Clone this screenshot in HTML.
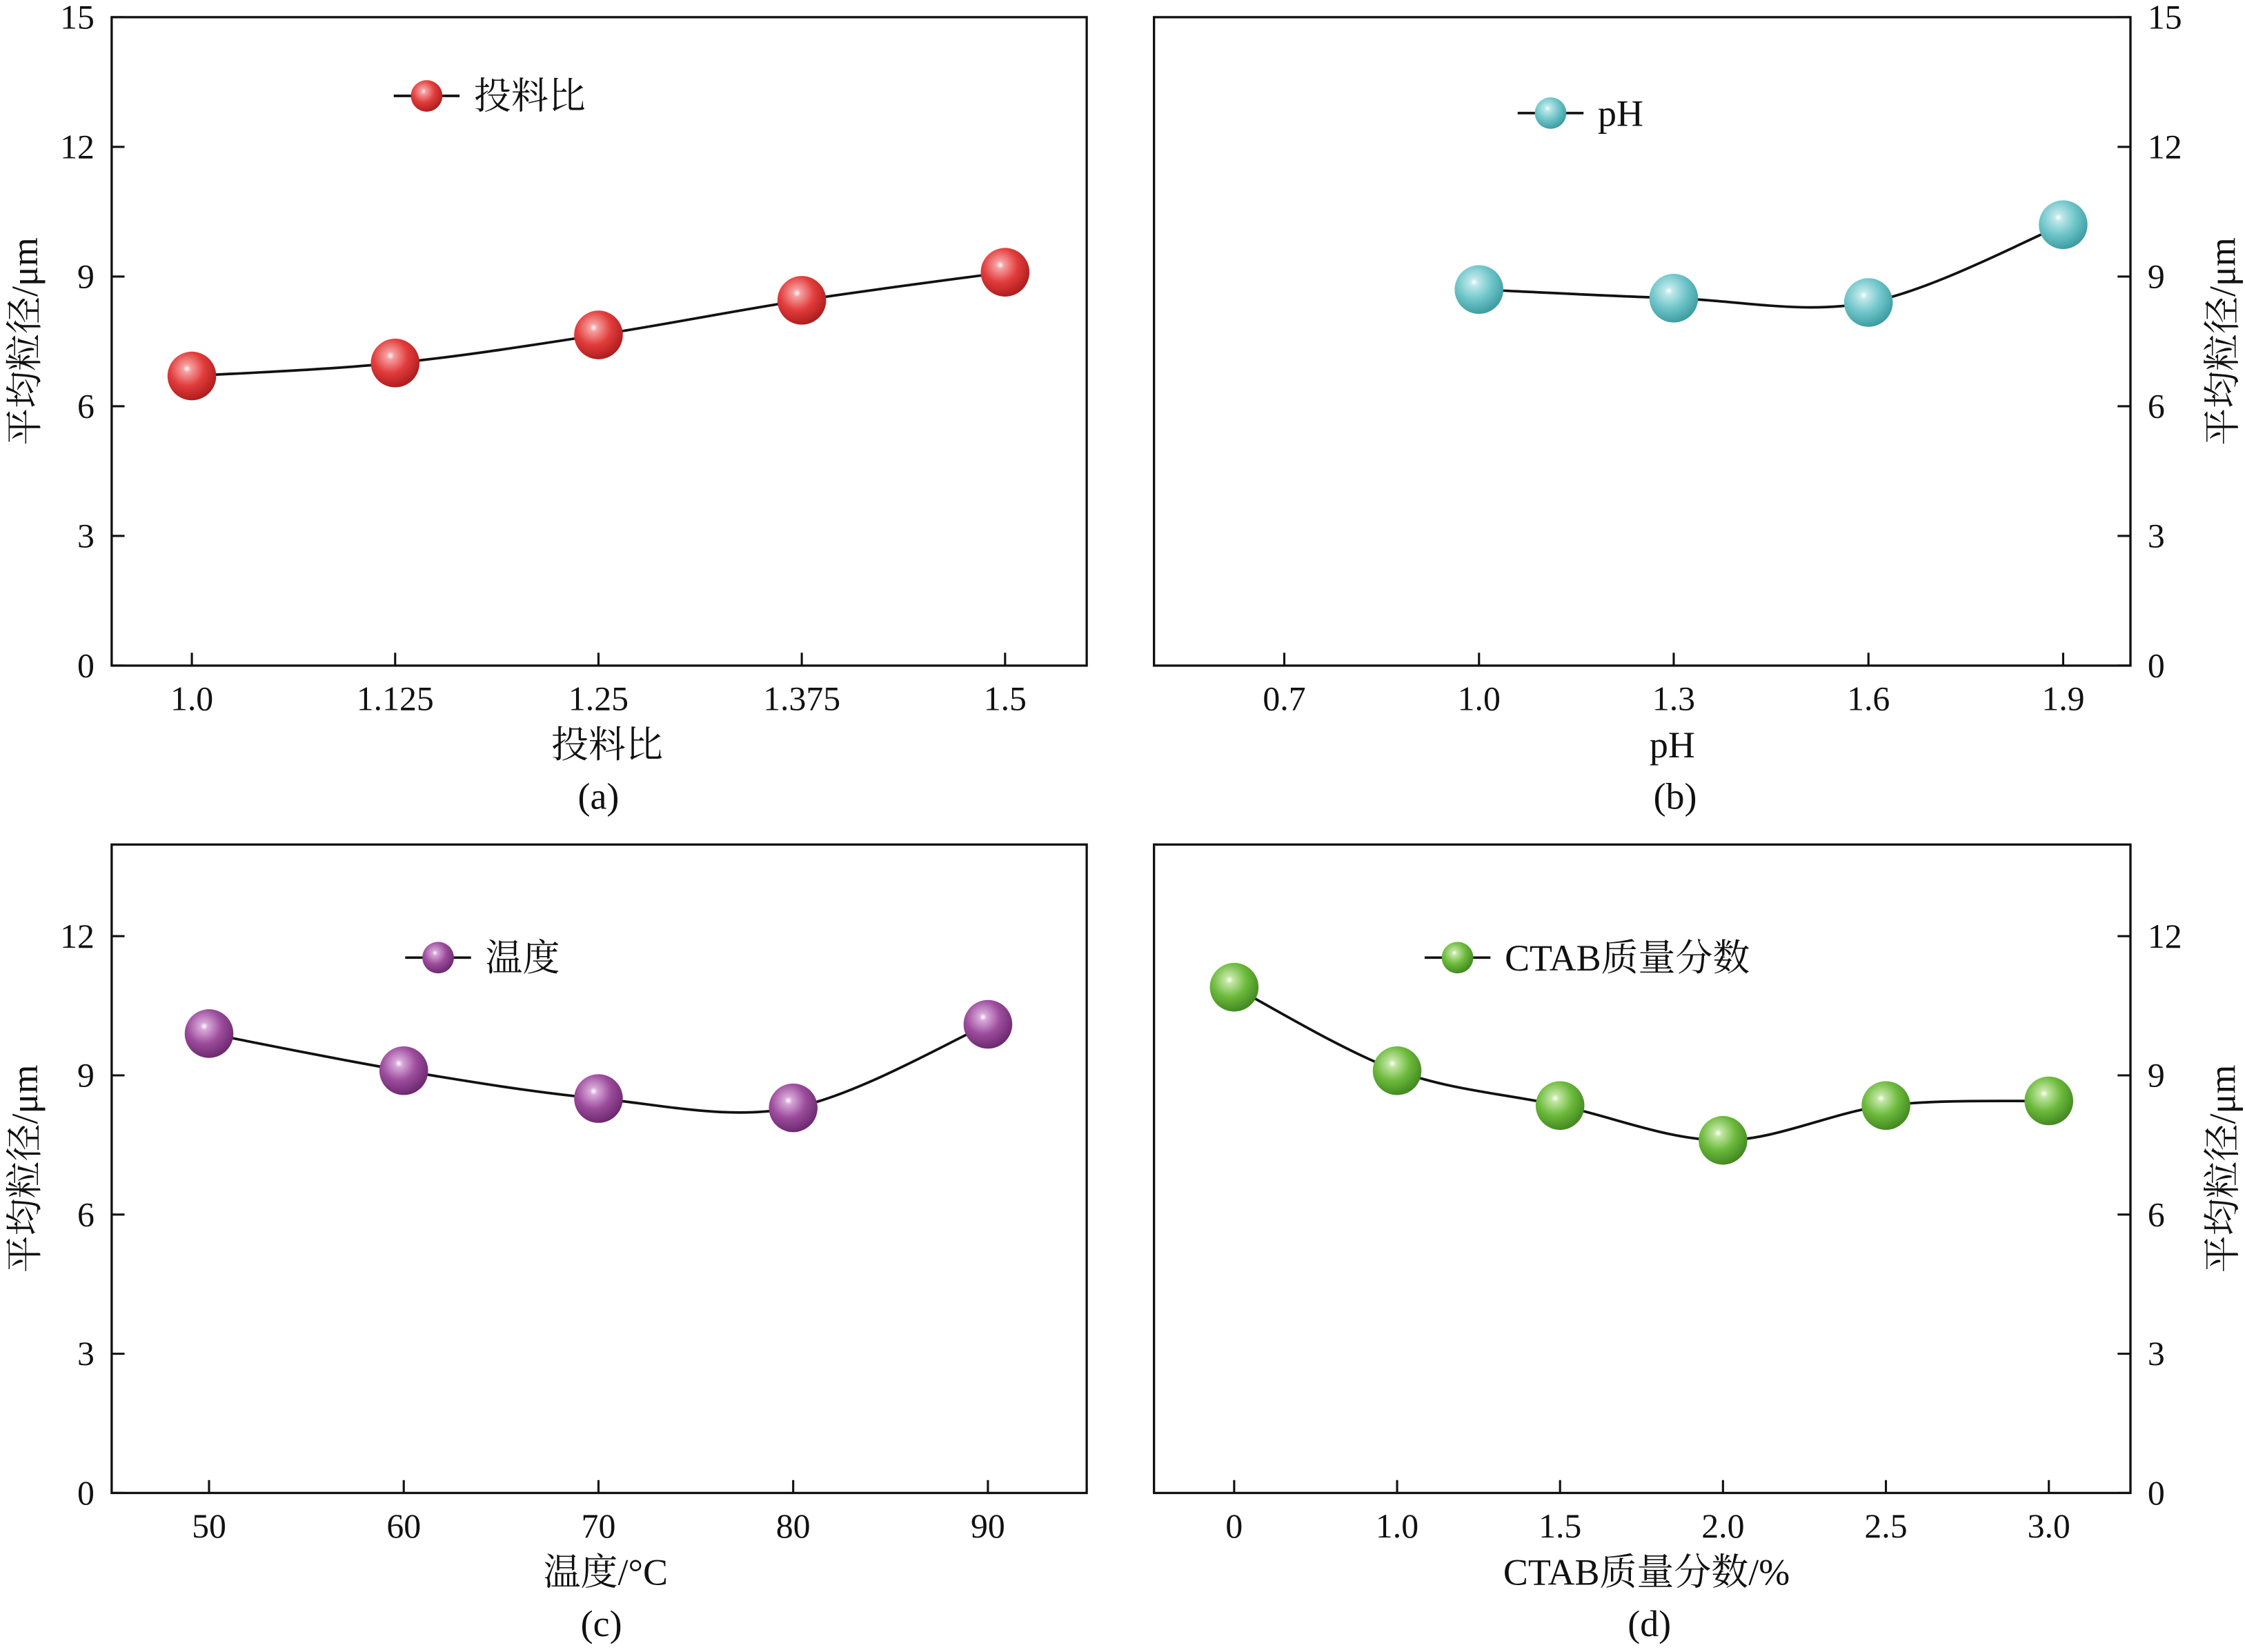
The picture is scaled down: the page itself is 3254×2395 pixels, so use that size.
<!DOCTYPE html>
<html><head><meta charset="utf-8"><style>
html,body{margin:0;padding:0;background:#fff}
svg{display:block}
text{font-family:"Liberation Serif","Noto Serif CJK SC","Noto Sans CJK SC",serif;fill:#111}
</style></head><body>
<svg id="c" width="3254" height="2395" viewBox="0 0 1568 1154.1" preserveAspectRatio="none" xmlns="http://www.w3.org/2000/svg">
<defs>
<radialGradient id="g-red" cx="0.4" cy="0.35" r="0.65"><stop offset="0" stop-color="#fff"/><stop offset="0.12" stop-color="#f6a0a0"/><stop offset="0.55" stop-color="#e23c3c"/><stop offset="1" stop-color="#b01e1e"/></radialGradient>
<radialGradient id="g-teal" cx="0.4" cy="0.35" r="0.65"><stop offset="0" stop-color="#fff"/><stop offset="0.12" stop-color="#bfe8ea"/><stop offset="0.55" stop-color="#70c6ca"/><stop offset="1" stop-color="#3e9ea3"/></radialGradient>
<radialGradient id="g-purple" cx="0.4" cy="0.35" r="0.65"><stop offset="0" stop-color="#fff"/><stop offset="0.12" stop-color="#d7a8d7"/><stop offset="0.55" stop-color="#9c4c9c"/><stop offset="1" stop-color="#6e2a70"/></radialGradient>
<radialGradient id="g-green" cx="0.4" cy="0.35" r="0.65"><stop offset="0" stop-color="#fff"/><stop offset="0.12" stop-color="#c2e6a4"/><stop offset="0.55" stop-color="#6cba3c"/><stop offset="1" stop-color="#448a22"/></radialGradient>
</defs>
</svg>
<script>
const catsA=['1.0','1.125','1.25','1.375','1.5'];
const valsA=[6.7,7.0,7.65,8.45,9.1];
const ticksXB=['0.7','1.0','1.3','1.6','1.9'];
const catsB=[1.0,1.3,1.6,1.9];
const valsB=[8.7,8.5,8.4,10.2];
const catsC=['50','60','70','80','90'];
const valsC=[9.9,9.1,8.5,8.3,10.1];
const catsD=['0','1.0','1.5','2.0','2.5','3.0'];
const valsD=[10.9,9.1,8.35,7.6,8.35,8.45];
const yTicksTop=[0,3,6,9,12,15];
const yTicksBot=[0,3,6,9,12];

const svg=document.getElementById('c');
const NS='http://www.w3.org/2000/svg';
function mk(tag,attrs,parent){const e=document.createElementNS(NS,tag);for(const k in attrs)e.setAttribute(k,attrs[k]);(parent||svg).appendChild(e);return e;}
function txt(s,x,y,size,anchor,parent){const t=mk('text',{x:x,y:y,'font-size':size,'text-anchor':anchor||'middle'},parent);t.textContent=s;return t;}
function spline(pts){let d='M'+pts[0][0]+','+pts[0][1];for(let i=0;i<pts.length-1;i++){const p0=pts[Math.max(0,i-1)],p1=pts[i],p2=pts[i+1],p3=pts[Math.min(pts.length-1,i+2)];const c1=[p1[0]+(p2[0]-p0[0])/6,p1[1]+(p2[1]-p0[1])/6],c2=[p2[0]-(p3[0]-p1[0])/6,p2[1]-(p3[1]-p1[1])/6];d+=' C'+c1+' '+c2+' '+p2;}return d;}

function panel(o){
  const g=mk('g',{});
  
  
  const X0=o.x0,X1=o.x1,Y0=o.y0,Y1=o.y1;
  const ys=v=>Y1-(v/o.ymax)*(Y1-o.ytop);
  const fr=mk('rect',{x:X0,y:Y0,width:X1-X0,height:Y1-Y0,fill:'none',stroke:'#111','stroke-width':1.6},g);
  
  
  o.yticks.forEach(v=>{const y=ys(v);
    if(o.right){mk('line',{x1:X1,x2:X1-9,y1:y,y2:y,stroke:'#111','stroke-width':1.5},g);const t=txt(String(v),X1+12,y+8,24,'start',g);}
    else{mk('line',{x1:X0,x2:X0+9,y1:y,y2:y,stroke:'#111','stroke-width':1.5},g);const t=txt(String(v),X0-12,y+8,24,'end',g);}
  });
  o.xticks.forEach((s,i)=>{const x=o.xpos(i);mk('line',{x1:x,x2:x,y1:Y1,y2:Y1-9,stroke:'#111','stroke-width':1.5},g);const t=txt(s,x,Y1+31,24,'middle',g);});
  const pts=o.vals.map((v,i)=>[o.px(i),ys(v)]);
  const ln=mk('path',{d:spline(pts),fill:'none',stroke:'#111','stroke-width':1.8},g);
  
  
  pts.forEach(p=>{const c=mk('circle',{cx:p[0],cy:p[1],r:17,fill:'url(#'+o.grad+')'},g);
    
    });
  const lg=mk('g',{},g);
  
  
  mk('line',{x1:o.lx,x2:o.lx+46,y1:o.ly,y2:o.ly,stroke:'#111','stroke-width':1.8},lg);
  mk('circle',{cx:o.lx+23,cy:o.ly,r:11,fill:'url(#'+o.grad+')'},lg);
  txt(o.legend,o.lx+56,o.ly+9,26,'start',lg);
  const xt=txt(o.xtitle,o.tx,Y1+64,26,'middle',g);
  
  const pl=txt(o.label,o.lbx,Y1+100,26,'middle',g);
  
  const yx=o.right?1552:17, yc=(Y0+Y1)/2;
  const yt=txt('平均粒径/μm',yx,yc+9,26,'middle',g);
  yt.setAttribute('transform','rotate(-90 '+yx+' '+yc+')');
  
}
panel({name:'panel-a',x0:78,x1:759,y0:12,y1:465,ytop:12,ymax:15,yticks:yTicksTop,
  xticks:catsA,xpos:i=>134+i*142,vals:valsA,px:i=>134+i*142,grad:'g-red',
  lx:275,ly:67,legend:'投料比',xtitle:'投料比',label:'(a)',tx:424,lbx:418});
const bx=v=>897+(v-0.7)/0.3*136;
panel({name:'panel-b',x0:806,x1:1488,y0:12,y1:465,ytop:12,ymax:15,yticks:yTicksTop,right:true,
  xticks:ticksXB,xpos:i=>bx(parseFloat(ticksXB[i])),vals:valsB,px:i=>bx(catsB[i]),grad:'g-teal',
  lx:1060,ly:79,legend:'pH',xtitle:'pH',label:'(b)',tx:1168,lbx:1170});
panel({name:'panel-c',x0:78,x1:759,y0:590,y1:1043,ytop:654,ymax:12,yticks:yTicksBot,
  xticks:catsC,xpos:i=>146+i*136,vals:valsC,px:i=>146+i*136,grad:'g-purple',
  lx:283,ly:669,legend:'温度',xtitle:'温度/°C',label:'(c)',tx:423,lbx:420});
panel({name:'panel-d',x0:806,x1:1488,y0:590,y1:1043,ytop:654,ymax:12,yticks:yTicksBot,right:true,
  xticks:catsD,xpos:i=>862+i*113.8,vals:valsD,px:i=>862+i*113.8,grad:'g-green',
  lx:995,ly:669,legend:'CTAB质量分数',xtitle:'CTAB质量分数/%',label:'(d)',tx:1150,lbx:1152});
</script>
</body></html>
